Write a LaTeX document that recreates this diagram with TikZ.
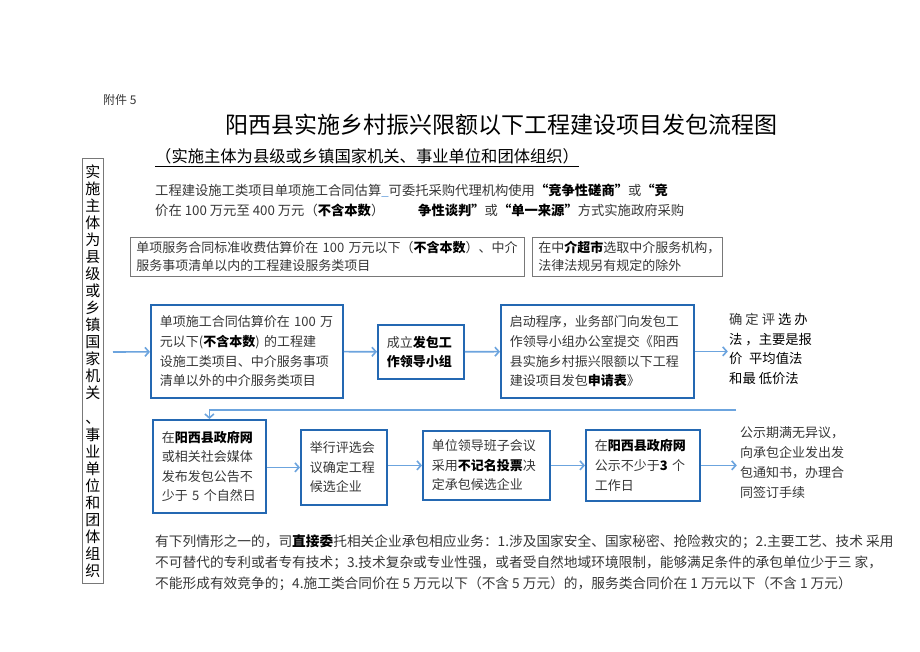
\documentclass[tikz,border=0pt]{standalone}
\usepackage{fontspec}
\setmainfont{Noto Sans CJK SC}
\usetikzlibrary{arrows.meta}

\definecolor{boxblue}{RGB}{36,104,178}
\definecolor{linkblue}{RGB}{108,164,222}
\definecolor{txtgray}{RGB}{55,55,55}
\definecolor{framegray}{RGB}{120,120,120}

\newcommand{\fsz}[2]{\fontsize{#1}{#2}\selectfont}
\newcommand{\bd}[1]{{\bfseries\color{black}#1}}

\tikzset{
  flowbox/.style={draw=boxblue, line width=1.8pt, anchor=north west, align=left,
    inner xsep=9pt, inner ysep=2pt, text=txtgray, font=\fsz{13}{19.6}},
  notebox/.style={draw=framegray, line width=0.7pt, anchor=north west, align=left,
    inner xsep=6pt, inner ysep=2pt, text=txtgray, font=\fsz{13}{18}},
  plaintext/.style={anchor=west, inner sep=0pt, text=txtgray},
  flowarrow/.style={draw=linkblue, line width=1.6pt, -{Straight Barb[length=4pt,width=9pt]}}
}

\begin{document}
\begin{tikzpicture}[x=1pt, y=-1pt]
    \useasboundingbox[fill=white] (0,0) rectangle (920,651);

    % Heading
    \node[plaintext, font=\fsz{12}{14}] (annex) at (103,100) {附件 5};
    \node[plaintext, text=black, font=\fsz{23}{26}] (title) at (225,125) {阳西县实施乡村振兴限额以下工程建设项目发包流程图};
    \node[plaintext, text=black, font=\fsz{16.3}{18}] (subtitle) at (155,156) {（实施主体为县级或乡镇国家机关、事业单位和团体组织）};
    \draw[line width=0.6pt] ([yshift=-2]subtitle.south west) -- ([yshift=-2]subtitle.south east);

    % Side label
    \node[draw=framegray, line width=0.8pt, anchor=north west, inner sep=0pt,
          minimum width=21, minimum height=425, align=center, text=black,
          font=\fsz{15}{17}] (side) at (82,158)
      {实\\施\\主\\体\\为\\县\\级\\或\\乡\\镇\\国\\家\\机\\关\\[8pt]、\\事\\业\\单\\位\\和\\团\\体\\组\\织};

    % Notes above the flow
    \node[plaintext, font=\fsz{13.3}{16}] (note1) at (155,191)
      {工程建设施工类项目单项施工合同估算\textcolor{linkblue}{\_}可委托采购代理机构使用\bd{“竞争性磋商”}或\bd{“竞}};
    \node[plaintext, font=\fsz{13.3}{16}] (note2) at (155,210)
      {价在 100 万元至 400 万元（\bd{不含本数}）};
    \node[plaintext, font=\fsz{13.3}{16}] (note3) at (418,210)
      {\bd{争性谈判”}或\bd{“单一来源”}方式实施政府采购};

    \node[notebox, text width=382, minimum height=39] (service) at (130,237)
      {单项服务合同标准收费估算价在 100 万元以下（\bd{不含本数}）、中介\\服务事项清单以内的工程建设服务类项目};
    \node[notebox, text width=178, minimum height=39] (market) at (532,237)
      {在中\bd{介超市}选取中介服务机构，\\法律法规另有规定的除外};

    % First row
    \coordinate (entry) at (113,352);
    \node[flowbox, text width=174, minimum height=93] (scope) at (150,304)
      {单项施工合同估算价在 100 万\\元以下(\bd{不含本数}) 的工程建\\设施工类项目、中介服务事项\\清单以外的中介服务类项目};
    \node[flowbox, text width=68, minimum height=54] (group) at (377,324)
      {成立\bd{发包工}\\\bd{作领导小组}};
    \node[flowbox, text width=175, minimum height=93] (apply) at (500,304)
      {启动程序，业务部门向发包工\\作领导小组办公室提交《阳西\\县实施乡村振兴限额以下工程\\建设项目发包\bd{申请表}》};
    \node[anchor=north west, align=left, inner sep=0pt, text=black, font=\fsz{13.3}{19.6}] (method) at (729,313)
      {\textcolor{txtgray}{确 定 评} 选 办\\法 ，主要是报\\价\enspace 平均值法\\和最 低价法};

    \draw[flowarrow] (entry) -- (scope);
    \draw[flowarrow] (scope) -- (group);
    \draw[flowarrow] (group) -- (apply);
    \draw[flowarrow] (apply.east) -- ++(33,0) coordinate (methodin);

    % Second row
    \node[flowbox, text width=95, minimum height=93] (notice) at (152,419)
      {在\bd{阳西县政府网}\\或相关社会媒体\\发布发包公告不\\少于 5 个自然日};
    \node[flowbox, text width=68, minimum height=75] (review) at (300,429)
      {举行评选会\\议确定工程\\候选企业};
    \node[flowbox, text width=109, minimum height=69] (vote) at (422,430)
      {单位领导班子会议\\采用\bd{不记名投票}决\\定承包候选企业};
    \node[flowbox, text width=96, minimum height=71] (publicity) at (585,429)
      {在\bd{阳西县政府网}\\公示不少于\bd{3} 个\\工作日};
    \node[anchor=north west, align=left, inner sep=0pt, text=txtgray, font=\fsz{13}{20}] (contract) at (740,426)
      {公示期满无异议，\\向承包企业发出发\\包通知书，办理合\\同签订手续};

    \coordinate (loop) at (736,410);
    \draw[flowarrow] (loop) -- (loop -| notice.north) -- (notice.north);
    \draw[flowarrow] (notice.east |- review.west) -- (review.west);
    \draw[flowarrow] (review.east |- vote.west) -- (vote.west);
    \draw[flowarrow] (vote) -- (publicity);
    \draw[flowarrow] (publicity.east) -- ++(36,0) coordinate (contractin);

    % Exceptions
    \node[plaintext, font=\fsz{13.7}{16}] (except1) at (155,542)
      {有下列情形之一的，司\bd{直接委}托相关企业承包相应业务：1.涉及国家安全、国家秘密、抢险救灾的；2.主要工艺、技术 采用};
    \node[plaintext, font=\fsz{13.7}{16}] (except2) at (155,563)
      {不可替代的专利或者专有技术；3.技术复杂或专业性强，或者受自然地域环境限制，能够满足条件的承包单位少于三 家，};
    \node[plaintext, font=\fsz{13.7}{16}] (except3) at (155,584)
      {不能形成有效竞争的；4.施工类合同价在 5 万元以下（不含 5 万元）的，服务类合同价在 1 万元以下（不含 1 万元）};
\end{tikzpicture}
\end{document}
